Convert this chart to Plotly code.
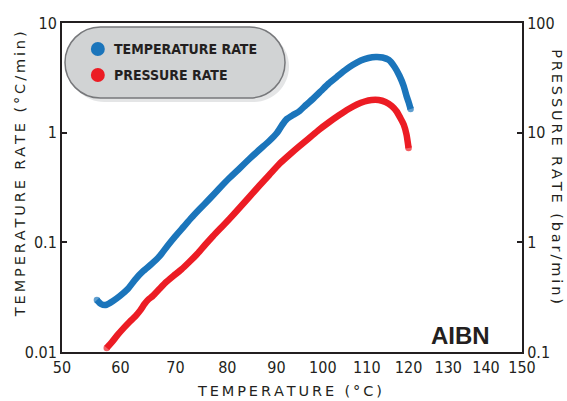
import plotly.graph_objects as go

# Temperature-rate curve (°C, °C/min)
temp_rate_t = [55.9, 56.6, 57.4, 58.7, 59.9, 61.3, 62.7, 64.1, 65.6, 67.1, 68.5, 70.0,
               71.5, 73.0, 74.5, 76.5, 78.4, 80.4, 82.4, 84.4, 86.4, 88.5, 90.1, 91.2,
               92.2, 93.5, 94.8, 96.3, 97.8, 99.6, 101.3, 103.1, 104.9, 106.7, 108.6,
               110.4, 112.1, 113.7, 115.2, 116.6, 117.8, 118.8, 119.5, 120.0, 120.5]
temp_rate_v = [0.0298, 0.0274, 0.0268, 0.0292, 0.0324, 0.0375, 0.0463, 0.0548, 0.0635,
               0.0751, 0.0926, 0.114, 0.138, 0.167, 0.199, 0.249, 0.310, 0.386, 0.471,
               0.575, 0.695, 0.840, 0.993, 1.175, 1.332, 1.449, 1.560, 1.788, 2.028,
               2.399, 2.808, 3.219, 3.689, 4.140, 4.551, 4.797, 4.898, 4.847, 4.599,
               3.970, 3.287, 2.664, 2.160, 1.904, 1.644]

# Pressure-rate curve (°C, bar/min)
press_rate_t = [57.6, 58.5, 59.5, 60.6, 61.6, 62.7, 63.6, 64.3, 65.0, 65.8, 67.1, 68.3,
                69.6, 71.1, 72.6, 74.2, 75.7, 77.2, 78.8, 80.4, 82.4, 84.4, 86.4, 88.5,
                90.6, 92.7, 94.8, 96.9, 99.1, 101.3, 103.6, 105.8, 107.7, 109.5, 111.1,
                112.8, 114.4, 115.9, 117.1, 118.0, 118.8, 119.5, 120.0]
press_rate_v = [0.109, 0.123, 0.143, 0.166, 0.188, 0.213, 0.242, 0.274, 0.301, 0.324,
                0.379, 0.435, 0.493, 0.565, 0.662, 0.791, 0.956, 1.142, 1.366, 1.632,
                2.056, 2.591, 3.264, 4.111, 5.180, 6.258, 7.478, 8.846, 10.58, 12.38,
                14.40, 16.44, 18.07, 19.24, 19.86, 19.86, 19.04, 17.51, 15.60, 13.60,
                11.90, 9.60, 7.25]

x_ticks_c = [50, 60, 70, 80, 90, 100, 110, 120, 130, 140, 150]
left_ticks = [0.01, 0.1, 1, 10]
left_tick_text = ["0.01", "0.1", "1", "10"]
right_ticks = [0.1, 1, 10, 100]
right_tick_text = ["0.1", "1", "10", "100"]

BLUE = "#1b75bb"
RED = "#ec1c24"
INK = "#231f20"

W, H = 567, 401
ML, MR, MT, MB = 62, 43, 23, 49
PW, PH = W - ML - MR, H - MT - MB


def inv_k(t):
    """Arrhenius-style abscissa: 1000 / absolute temperature."""
    return 1000.0 / (t + 273.15)


def px(x, y):
    """Pixel position -> paper coordinates."""
    return (x - ML) / PW, (H - MB - y) / PH


def spaced(text):
    thin, nb = "\u2009", "\u00a0"
    return (thin + nb + thin).join(thin.join(word) for word in text.split(" "))


def pill_path(x0, y0, x1, y1):
    r = (y1 - y0) / 2
    k = 0.5523 * r
    pts = [
        ("M", [(x0 + r, y0)]),
        ("L", [(x1 - r, y0)]),
        ("C", [(x1 - r + k, y0), (x1, y0 + r - k), (x1, y0 + r)]),
        ("C", [(x1, y0 + r + k), (x1 - r + k, y1), (x1 - r, y1)]),
        ("L", [(x0 + r, y1)]),
        ("C", [(x0 + r - k, y1), (x0, y0 + r + k), (x0, y0 + r)]),
        ("C", [(x0, y0 + r - k), (x0 + r - k, y0), (x0 + r, y0)]),
    ]
    out = []
    for cmd, plist in pts:
        coords = " ".join("%.5f,%.5f" % px(a, b) for a, b in plist)
        out.append(cmd + " " + coords)
    return " ".join(out) + " Z"


def cap_sizes(n, s):
    return [s] + [0] * (n - 2) + [s]


fig = go.Figure()

fig.add_trace(go.Scatter(
    x=[inv_k(t) for t in temp_rate_t], y=temp_rate_v,
    mode="lines+markers",
    line=dict(color=BLUE, width=6.5, shape="spline", smoothing=0.5),
    marker=dict(color=BLUE, size=cap_sizes(len(temp_rate_t), 6.5), line=dict(width=0)),
    yaxis="y", showlegend=False, hoverinfo="skip",
))

fig.add_trace(go.Scatter(
    x=[inv_k(t) for t in press_rate_t], y=press_rate_v,
    mode="lines+markers",
    line=dict(color=RED, width=6.5, shape="spline", smoothing=0.5),
    marker=dict(color=RED, size=cap_sizes(len(press_rate_t), 6.5), line=dict(width=0)),
    yaxis="y2", showlegend=False, hoverinfo="skip",
))

tick_font = dict(family="Liberation Sans Narrow, DejaVu Sans Condensed, Arial Narrow, sans-serif",
                 size=16, color=INK)
title_font = dict(family="DejaVu Sans, Open Sans, sans-serif", size=14.5, color=INK)

fig.update_layout(
    width=W, height=H,
    margin=dict(l=ML, r=MR, t=MT, b=MB, pad=0),
    paper_bgcolor="white", plot_bgcolor="white",
    xaxis=dict(
        range=[inv_k(50), inv_k(150)],
        tickvals=[inv_k(t) for t in x_ticks_c],
        ticktext=[str(t) for t in x_ticks_c],
        ticks="", showgrid=False, zeroline=False,
        showline=True, linecolor=INK, linewidth=2, mirror=True,
        tickfont=tick_font,
    ),
    yaxis=dict(
        type="log", range=[-2, 1],
        tickvals=left_ticks, ticktext=left_tick_text,
        ticks="inside", ticklen=5, tickwidth=1.5, tickcolor=INK,
        showgrid=False, zeroline=False,
        showline=True, linecolor=INK, linewidth=2,
        tickfont=tick_font,
    ),
    yaxis2=dict(
        type="log", range=[-1, 2], overlaying="y", side="right",
        tickvals=right_ticks, ticktext=right_tick_text,
        ticks="inside", ticklen=5, tickwidth=1.5, tickcolor=INK,
        showgrid=False, zeroline=False,
        showline=True, linecolor=INK, linewidth=2,
        tickfont=tick_font,
    ),
)

# Legend pill: soft shadow, grey body, coloured dots
shapes = [
    dict(type="path", xref="paper", yref="paper", path=pill_path(69, 31, 290, 102),
         fillcolor="#e4e5e6", line=dict(width=0), layer="above"),
    dict(type="path", xref="paper", yref="paper", path=pill_path(65, 27, 286, 98),
         fillcolor="#d1d3d4", line=dict(color="#77787b", width=1.5), layer="above"),
]
for cy, col in [(49, BLUE), (75, RED)]:
    x0, y0 = px(91, cy - 7)
    x1, y1 = px(105, cy + 7)
    shapes.append(dict(type="circle", xref="paper", yref="paper",
                       x0=x0, x1=x1, y0=y1, y1=y0,
                       fillcolor=col, line=dict(width=0), layer="above"))
fig.update_layout(shapes=shapes)

legend_font = dict(family="Liberation Sans Narrow, DejaVu Sans Condensed, sans-serif",
                   size=14, color=INK)
annotations = []
for cy, label in [(49, "TEMPERATURE RATE"), (75, "PRESSURE RATE")]:
    ax, ay = px(112, cy)
    annotations.append(dict(xref="paper", yref="paper", x=ax, y=ay, text="<b>%s</b>" % label,
                            showarrow=False, xanchor="left", yanchor="middle", font=legend_font))

lx, ly = px(20, 174)
annotations.append(dict(xref="paper", yref="paper", x=lx, y=ly,
                        text=spaced("TEMPERATURE RATE (°C/min)"), textangle=-90,
                        showarrow=False, xanchor="center", yanchor="middle", font=title_font))
rx, ry = px(559, 177)
annotations.append(dict(xref="paper", yref="paper", x=rx, y=ry,
                        text=spaced("PRESSURE RATE (bar/min)"), textangle=90,
                        showarrow=False, xanchor="center", yanchor="middle", font=title_font))
bx, by = px(290, 391)
annotations.append(dict(xref="paper", yref="paper", x=bx, y=by,
                        text=spaced("TEMPERATURE (°C)"),
                        showarrow=False, xanchor="center", yanchor="middle", font=title_font))
tx, ty = px(462, 335)
annotations.append(dict(xref="paper", yref="paper", x=tx, y=ty, text="<b>AIBN</b>",
                        showarrow=False, xanchor="center", yanchor="middle",
                        font=dict(family="Liberation Sans, Arial, sans-serif", size=24, color=INK)))
fig.update_layout(annotations=annotations)

fig.write_html("out.html")
